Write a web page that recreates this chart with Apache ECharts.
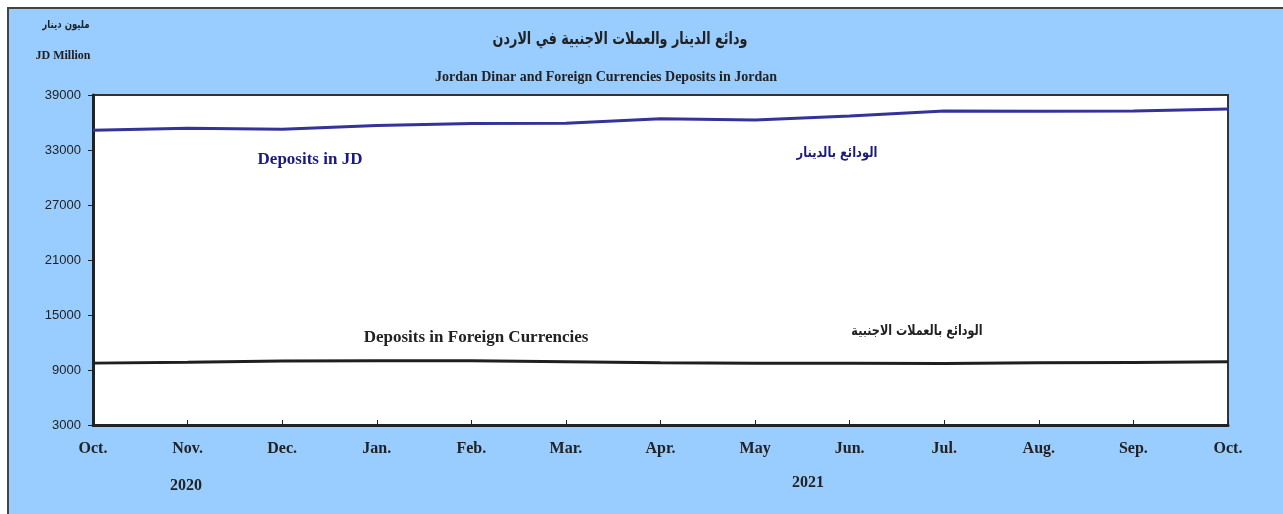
<!DOCTYPE html>
<html>
<head>
<meta charset="utf-8">
<title>Jordan Dinar and Foreign Currencies Deposits in Jordan</title>
<script src="https://cdn.jsdelivr.net/npm/echarts@6/dist/echarts.min.js"></script>
<style>
  html, body { margin: 0; padding: 0; background: #fff; }
  #chart { width: 1283px; height: 514px; }
</style>
</head>
<body>
<div id="chart"></div>
<script>
// months Oct 2020 .. Oct 2021
const months = ['Oct.', 'Nov.', 'Dec.', 'Jan.', 'Feb.', 'Mar.', 'Apr.', 'May', 'Jun.', 'Jul.', 'Aug.', 'Sep.', 'Oct.'];
// JD million
const depositsJD = [35160, 35380, 35270, 35680, 35900, 35920, 36420, 36280, 36720, 37260, 37230, 37250, 37480];
const depositsFC = [9750, 9850, 9980, 10000, 10000, 9900, 9780, 9750, 9750, 9720, 9780, 9830, 9900];
const yTicks = [3000, 9000, 15000, 21000, 27000, 33000, 39000];

const serif = '"Liberation Serif", "Times New Roman", serif';
const arabic = '"DejaVu Sans", sans-serif';

// text helper, sx squeezes the wide arabic glyphs a bit
const txt = (x, y, text, font, fill, sx) => ({
  type: 'text',
  x: x,
  y: y,
  scaleX: sx || 1,
  style: {
    text: text,
    font: font,
    fill: fill || '#222',
    textAlign: 'center',
    textVerticalAlign: 'middle'
  }
});

const chart = echarts.init(document.getElementById('chart'));

chart.setOption({
  backgroundColor: '#fff',
  animation: false,
  grid: {
    left: 93,
    right: 55,
    top: 95,
    bottom: 89,
    show: true,
    backgroundColor: '#fff',
    borderColor: '#333',
    borderWidth: 2
  },
  xAxis: {
    type: 'category',
    data: months,
    boundaryGap: false,
    axisLine: { lineStyle: { color: '#222', width: 3 } },
    axisTick: { inside: true, length: 5, lineStyle: { color: '#222', width: 1 } },
    axisLabel: {
      color: '#222',
      fontFamily: serif,
      fontWeight: 'bold',
      fontSize: 16,
      margin: 16
    },
    splitLine: { show: false }
  },
  yAxis: {
    type: 'value',
    min: 3000,
    max: 39000,
    axisLine: { show: true, lineStyle: { color: '#222', width: 3 } },
    axisTick: { show: true, length: 5, customValues: yTicks, lineStyle: { color: '#222', width: 1 } },
    axisLabel: {
      customValues: yTicks,
      formatter: v => String(v),
      color: '#222',
      fontFamily: '"Liberation Sans", Arial, sans-serif',
      fontSize: 13,
      margin: 12
    },
    splitLine: { show: false }
  },
  series: [
    {
      name: 'Deposits in JD',
      type: 'line',
      data: depositsJD,
      symbol: 'none',
      lineStyle: { color: '#333399', width: 3 }
    },
    {
      name: 'Deposits in Foreign Currencies',
      type: 'line',
      data: depositsFC,
      symbol: 'none',
      lineStyle: { color: '#1f1f1f', width: 3 }
    }
  ],
  graphic: [
    {
      type: 'rect',
      z: -10,
      shape: { x: 8, y: 8, width: 1290, height: 520 },
      style: { fill: '#99ccff', stroke: '#444', lineWidth: 2 }
    },
    txt(620, 40, 'ودائع الدينار والعملات الاجنبية في الاردن', 'bold 17px ' + arabic, '#222', 0.75),
    txt(606, 77, 'Jordan Dinar and Foreign Currencies Deposits in Jordan', 'bold 14px ' + serif),
    txt(66, 25, 'مليون دينار', 'bold 11px ' + arabic, '#222', 0.78),
    txt(63, 56, 'JD Million', 'bold 12px ' + serif),
    txt(310, 160, 'Deposits in JD', 'bold 17px ' + serif, '#1a1a80'),
    txt(837, 153, 'الودائع بالدينار', 'bold 14px ' + arabic, '#1a1a80', 0.82),
    txt(476, 338, 'Deposits in Foreign Currencies', 'bold 17px ' + serif),
    txt(917, 331, 'الودائع بالعملات الاجنبية', 'bold 14px ' + arabic, '#222', 0.8),
    txt(186, 486, '2020', 'bold 16px ' + serif),
    txt(808, 483, '2021', 'bold 16px ' + serif)
  ]
});
</script>
</body>
</html>
